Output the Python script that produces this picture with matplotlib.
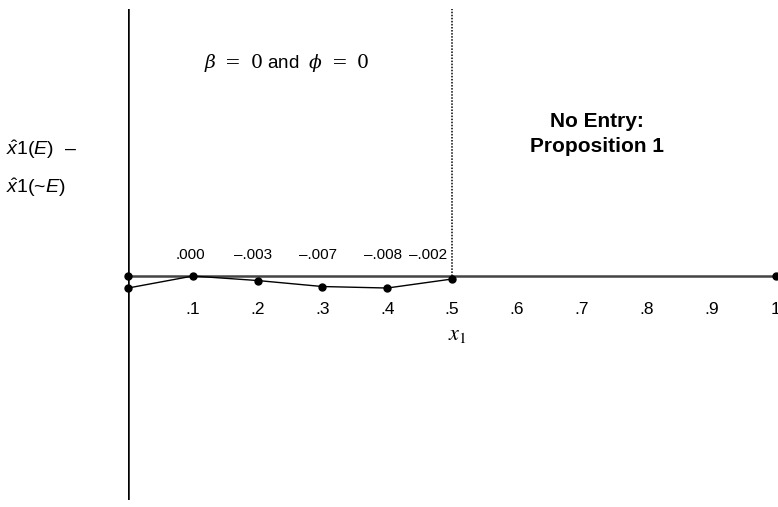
import matplotlib.pyplot as plt

plt.rcParams['font.family'] = ['Liberation Sans', 'DejaVu Sans']
plt.rcParams['mathtext.fontset'] = 'custom'
plt.rcParams['mathtext.it'] = 'Liberation Sans:italic'
plt.rcParams['mathtext.rm'] = 'Liberation Sans'

# data
x_vals = [0.0, 0.1, 0.2, 0.3, 0.4, 0.5]
y_vals = [-0.008, 0.000, -0.003, -0.007, -0.008, -0.002]
labels = ['.000', '\u2013.003', '\u2013.007', '\u2013.008', '\u2013.002']
label_dx = [-2, -3.5, -3, -3, -17]  # points, keeps labels apart
ticks = [0.1, 0.2, 0.3, 0.4, 0.5, 0.6, 0.7, 0.8, 0.9, 1.0]
tick_labels = ['.1', '.2', '.3', '.4', '.5', '.6', '.7', '.8', '.9', '1']

fig = plt.figure(figsize=(7.78, 5.07), dpi=100)
ax = fig.add_axes([128 / 778, 7 / 507, 648 / 778, 491 / 507])
ax.set_xlim(0, 1)
ax.set_ylim(-0.1493, 0.178)
ax.axis('off')

# axes lines
ax.axhline(0, color='#444444', lw=1.8, zorder=1)
ax.axvline(0, color='black', lw=1.8, zorder=1)
ax.plot([0.5, 0.5], [0, 0.178], color='black', lw=1.1, ls=(0, (1, 1)))

# the curve
ax.plot(x_vals, y_vals, color='black', lw=1, marker='o', ms=5, clip_on=False, zorder=3)
ax.plot([0, 1], [0, 0], 'o', color='black', ms=5, clip_on=False, zorder=3)

for xv, lab, dx in zip(x_vals[1:], labels, label_dx):
    ax.annotate(lab, (xv, 0), xytext=(dx, 10), textcoords='offset points',
                ha='center', va='bottom', fontsize=11)

for t, lab in zip(ticks, tick_labels):
    ax.annotate(lab, (t, 0), xytext=(0, -19), textcoords='offset points',
                ha='center', va='top', fontsize=12.5)

ax.text(0.508, -0.0393, r'$x_1$', fontsize=16, ha='center', va='center',
        math_fontfamily='stix')

ax.text(0.245, 0.142, r'$\beta\ =\ 0$ and  $\phi\ =\ 0$', fontsize=13.5,
        ha='center', va='center', math_fontfamily='dejavuserif')

ax.text(0.724, 0.0947, 'No Entry:\nProposition 1', fontsize=15, fontweight='bold',
        ha='center', va='center', linespacing=1.35)

fig.text(6 / 778, 1 - 150 / 507, '$\\hat{x}$1($E$)  \u2013',
         fontsize=14, ha='left', va='center')
fig.text(6 / 778, 1 - 188 / 507, '$\\hat{x}$1(~$E$)', fontsize=14,
         ha='left', va='center')

fig.savefig('out.png', dpi=100)
